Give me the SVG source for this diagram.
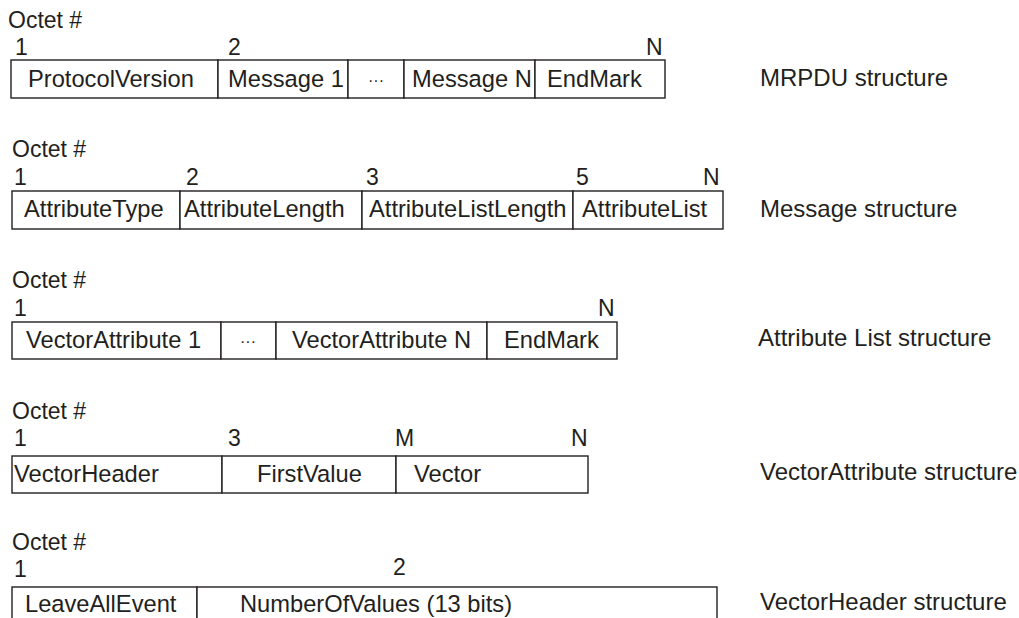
<svg xmlns="http://www.w3.org/2000/svg" width="1019" height="618" viewBox="0 0 1019 618">
<style>
text{font-family:"Liberation Sans",Arial,Helvetica,sans-serif;fill:#231f20;font-size:23px}
.t{font-size:23.7px}
.lbl{font-size:24px}
.c{text-anchor:middle}
rect{fill:#fff;stroke:#231f20;stroke-width:1.4}
</style>
<rect x="0" y="0" width="1019" height="618" style="stroke:none"/>
<g id="mrpdu">
<text x="8" y="28">Octet #</text>
<text x="15" y="55">1</text>
<text x="228" y="55">2</text>
<text x="646" y="55">N</text>
<g id="mrpdu-protocolversion"><rect x="11" y="60" width="207" height="38"/><text class="t" x="28" y="87">ProtocolVersion</text></g>
<g id="mrpdu-message1"><rect x="218" y="60" width="130" height="38"/><text class="t" x="228" y="87">Message 1</text></g>
<g id="mrpdu-ellipsis"><rect x="348" y="60" width="56" height="38"/><text class="c" x="376" y="86" style="font-size:16px">···</text></g>
<g id="mrpdu-messageN"><rect x="404" y="60" width="131" height="38"/><text class="t" x="412" y="87">Message N</text></g>
<g id="mrpdu-endmark"><rect x="535" y="60" width="130" height="38"/><text class="t" x="547" y="87">EndMark</text></g>
<text class="lbl" x="760" y="86">MRPDU structure</text>
</g>
<g id="message">
<text x="12" y="157">Octet #</text>
<text x="14" y="185">1</text>
<text x="186" y="185">2</text>
<text x="366" y="185">3</text>
<text x="576" y="185">5</text>
<text x="703" y="185">N</text>
<g id="message-attributetype"><rect x="12" y="191" width="168" height="38"/><text class="t" x="24" y="217">AttributeType</text></g>
<g id="message-attributelength"><rect x="180" y="191" width="182" height="38"/><text class="t" x="184" y="217">AttributeLength</text></g>
<g id="message-attributelistlength"><rect x="362" y="191" width="211" height="38"/><text class="t" x="369" y="217">AttributeListLength</text></g>
<g id="message-attributelist"><rect x="573" y="191" width="150" height="38"/><text class="t" x="582" y="217">AttributeList</text></g>
<text class="lbl" x="760" y="217">Message structure</text>
</g>
<g id="attributelist">
<text x="12" y="288">Octet #</text>
<text x="14" y="316">1</text>
<text x="598" y="316">N</text>
<g id="attributelist-vectorattribute1"><rect x="12" y="322" width="209" height="37"/><text class="t" x="26" y="348">VectorAttribute 1</text></g>
<g id="attributelist-ellipsis"><rect x="221" y="322" width="55" height="37"/><text class="c" x="248" y="347" style="font-size:16px">···</text></g>
<g id="attributelist-vectorattributeN"><rect x="276" y="322" width="211" height="37"/><text class="t" x="292" y="348">VectorAttribute N</text></g>
<g id="attributelist-endmark"><rect x="487" y="322" width="130" height="37"/><text class="t" x="504" y="348">EndMark</text></g>
<text class="lbl" x="758" y="346">Attribute List structure</text>
</g>
<g id="vectorattribute">
<text x="12" y="419">Octet #</text>
<text x="14" y="446">1</text>
<text x="228" y="446">3</text>
<text x="395" y="446">M</text>
<text x="571" y="446">N</text>
<g id="vectorattribute-vectorheader"><rect x="12" y="456" width="210" height="37"/><text class="t" x="14" y="482">VectorHeader</text></g>
<g id="vectorattribute-firstvalue"><rect x="222" y="456" width="174" height="37"/><text class="t" x="257" y="482">FirstValue</text></g>
<g id="vectorattribute-vector"><rect x="396" y="456" width="192" height="37"/><text class="t" x="414" y="482">Vector</text></g>
<text class="lbl" x="760" y="480">VectorAttribute structure</text>
</g>
<g id="vectorheader">
<text x="12" y="550">Octet #</text>
<text x="14" y="577">1</text>
<text x="393" y="575">2</text>
<g id="vectorheader-leaveallevent"><rect x="12" y="587" width="185" height="45"/><text class="t" x="25" y="612">LeaveAllEvent</text></g>
<g id="vectorheader-numberofvalues"><rect x="197" y="587" width="520" height="45"/><text class="t" x="240" y="612">NumberOfValues (13 bits)</text></g>
<text class="lbl" x="760" y="610">VectorHeader structure</text>
</g>
</svg>
